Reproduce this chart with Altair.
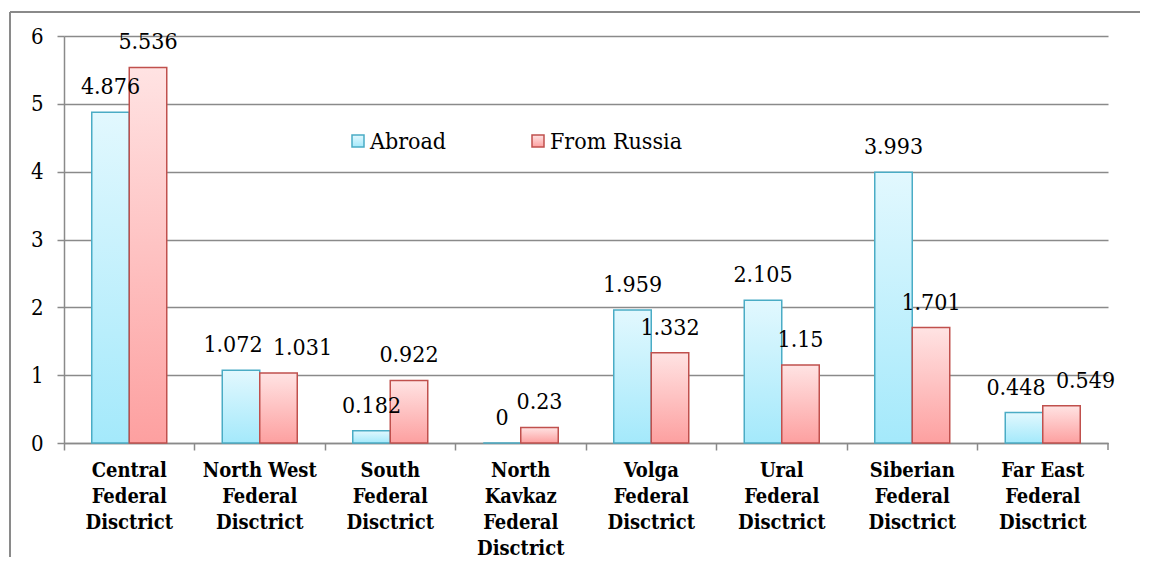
import altair as alt
import pandas as pd

categories = ["Central|Federal|Disctrict", "North West|Federal|Disctrict", "South|Federal|Disctrict",
              "North|Kavkaz|Federal|Disctrict", "Volga|Federal|Disctrict", "Ural|Federal|Disctrict",
              "Siberian|Federal|Disctrict", "Far East|Federal|Disctrict"]
abroad = [4.876, 1.072, 0.182, 0, 1.959, 2.105, 3.993, 0.448]
from_russia = [5.536, 1.031, 0.922, 0.23, 1.332, 1.15, 1.701, 0.549]
series = ["Abroad", "From Russia"]
y_ticks = [0, 1, 2, 3, 4, 5, 6]

rows = []
for c, a, r in zip(categories, abroad, from_russia):
    rows.append({"district": c, "series": series[0], "value": a, "label": f"{a:g}"})
    rows.append({"district": c, "series": series[1], "value": r, "label": f"{r:g}"})
df = pd.DataFrame(rows)

W, H = 1044, 407
FONT = "DejaVu Serif Condensed, DejaVu Serif, serif"
GRID = "#8a8a8a"

grad_blue = alt.Gradient(gradient="linear", x1=0, y1=0, x2=0, y2=1,
                         stops=[alt.GradientStop(color="#e2f8fe", offset=0),
                                alt.GradientStop(color="#a4e9fb", offset=1)])
grad_red = alt.Gradient(gradient="linear", x1=0, y1=0, x2=0, y2=1,
                        stops=[alt.GradientStop(color="#ffe3e3", offset=0),
                               alt.GradientStop(color="#fda0a0", offset=1)])
BLUE_STROKE = "#4aacc5"
RED_STROKE = "#c0504d"

x = alt.X("district:N", sort=categories,
          scale=alt.Scale(domain=categories, paddingInner=0, paddingOuter=0),
          axis=alt.Axis(title=None, labelAngle=0, bandPosition=0,
                        labelExpr="split(datum.value, '|')", labelFont=FONT, labelFontWeight="bold",
                        labelFontSize=20, labelLineHeight=26, labelColor="black",
                        tickColor=GRID, tickSize=7, tickWidth=1.5, domainColor=GRID, domainWidth=1.5,
                        labelPadding=10, labelBaseline="top", grid=False, labelOverlap=False))
xo = alt.XOffset("series:N", scale=alt.Scale(domain=series, paddingInner=0, paddingOuter=0.74))
y = alt.Y("value:Q", scale=alt.Scale(domain=[0, 6], nice=False),
          axis=alt.Axis(title=None, values=y_ticks, format="d", grid=True, gridColor=GRID, gridWidth=1.5,
                        domainColor=GRID, domainWidth=1.5, tickColor=GRID, tickSize=7, tickWidth=1.5,
                        labelFont=FONT, labelFontSize=22, labelPadding=14, labelColor="black"))

base = alt.Chart(df)
bars_a = base.transform_filter(alt.datum.series == series[0]).mark_bar(
    fill=grad_blue, stroke=BLUE_STROKE, strokeWidth=1.5).encode(x=x, xOffset=xo, y=y)
bars_r = base.transform_filter(alt.datum.series == series[1]).mark_bar(
    fill=grad_red, stroke=RED_STROKE, strokeWidth=1.5).encode(x=x, xOffset=xo, y=y)

# labels: when the two values of a district are nearly equal, spread the pair apart
lab_base = base.transform_joinaggregate(
    vmax="max(value)", vmin="min(value)", groupby=["district"]
).transform_calculate(close="datum.vmax - datum.vmin < 0.2")
text_kw = dict(font=FONT, fontSize=23, baseline="middle", color="black")
lab_enc = dict(x=x, xOffset=xo, y="value:Q", text="label:N")
labels_plain = lab_base.transform_filter("!datum.close").mark_text(dy=-25, **text_kw).encode(**lab_enc)
labels_close_a = lab_base.transform_filter(f"datum.close && datum.series == '{series[0]}'").mark_text(
    dy=-25, dx=-8, **text_kw).encode(**lab_enc)
labels_close_r = lab_base.transform_filter(f"datum.close && datum.series == '{series[1]}'").mark_text(
    dy=-25, dx=24, **text_kw).encode(**lab_enc)

dummy = alt.Chart(pd.DataFrame({"a": [0]}))
frame_top = dummy.mark_rule(color=GRID, strokeWidth=2).encode(
    x=alt.value(-54), x2=alt.value(1100), y=alt.value(-24))
frame_left = dummy.mark_rule(color=GRID, strokeWidth=2).encode(
    x=alt.value(-54), y=alt.value(-24), y2=alt.value(540))
end_tick = dummy.mark_rule(color=GRID, strokeWidth=1.5).encode(
    x=alt.value(W), y=alt.value(H), y2=alt.value(H + 7))

leg_a_box = dummy.mark_rect(fill=grad_blue, stroke=BLUE_STROKE, strokeWidth=1.5).encode(
    x=alt.value(288), x2=alt.value(300), y=alt.value(99), y2=alt.value(111))
leg_a_txt = dummy.mark_text(font=FONT, fontSize=23, align="left", baseline="middle", color="black").encode(
    x=alt.value(306), y=alt.value(106), text=alt.value(series[0]))
leg_r_box = dummy.mark_rect(fill=grad_red, stroke=RED_STROKE, strokeWidth=1.5).encode(
    x=alt.value(468), x2=alt.value(480), y=alt.value(99), y2=alt.value(111))
leg_r_txt = dummy.mark_text(font=FONT, fontSize=23, align="left", baseline="middle", color="black").encode(
    x=alt.value(486), y=alt.value(106), text=alt.value(series[1]))

chart = alt.layer(bars_a, bars_r, labels_plain, labels_close_a, labels_close_r,
                  frame_top, frame_left, end_tick,
                  leg_a_box, leg_a_txt, leg_r_box, leg_r_txt).properties(
    width=W, height=H,
    autosize=alt.AutoSizeParams(type="none"),
    padding={"left": 56, "top": 28, "right": 32, "bottom": 114},
    background="white",
).configure_view(stroke=None)

chart.save("out.html", embed_options={"renderer": "svg", "actions": False})
